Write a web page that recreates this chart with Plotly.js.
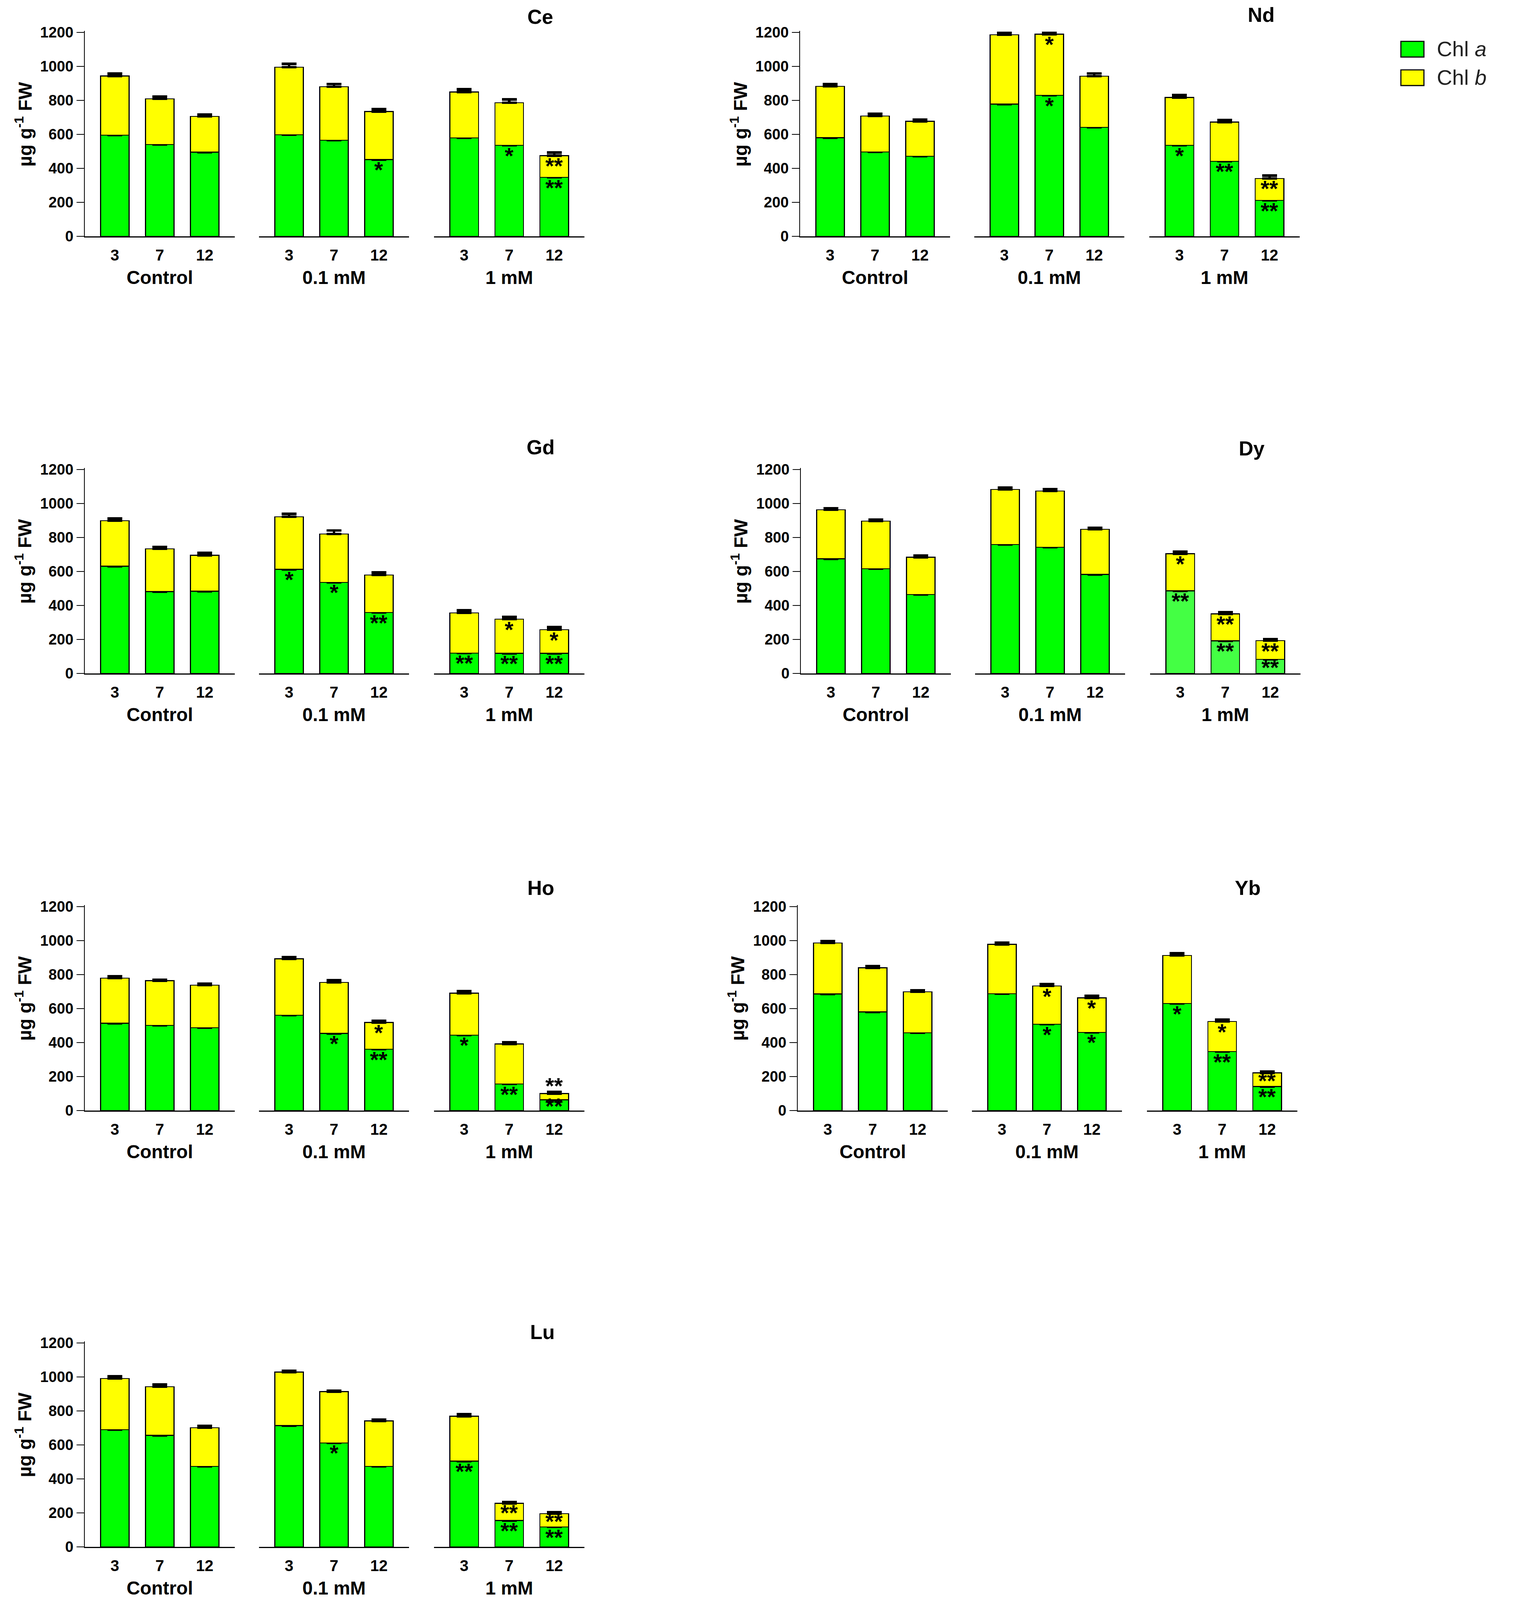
<!DOCTYPE html>
<html>
<head>
<meta charset="utf-8">
<script src="https://cdn.plot.ly/plotly-3.0.1.min.js"></script>
<style>html,body{margin:0;padding:0;background:#fff;overflow:hidden}</style>
</head>
<body>
<div id="chart"></div>
<script>
// days after treatment, shown under each bar
const days = ['3', '7', '12'];
const doses = ['Control', '0.1 mM', '1 mM'];
const yTicks = [0, 200, 400, 600, 800, 1000, 1200];

// µg g-1 FW, order: Control 3/7/12, 0.1 mM 3/7/12, 1 mM 3/7/12
// Chl b is the part stacked on top of Chl a
const ceChlA = [595, 541, 496, 598, 565, 452, 580, 536, 347];
const ceChlB = [349, 269, 210, 397, 315, 283, 270, 250, 128];
const ceErrA = [12, 12, 10, 18, 15, 15, 14, 15, 20];
const ceErrB = [15, 12, 12, 20, 17, 15, 16, 20, 18];
const ceSigA = ['', '', '', '', '', '*', '', '*', '**'];
const ceSigB = ['', '', '', '', '', '', '', '', '**'];

const ndChlA = [581, 497, 471, 778, 830, 642, 536, 442, 212];
const ndChlB = [302, 211, 206, 409, 360, 300, 281, 231, 129];
const ndErrA = [14, 13, 12, 12, 13, 12, 18, 16, 15];
const ndErrB = [14, 14, 10, 10, 8, 17, 14, 12, 17];
const ndSigA = ['', '', '', '', '*', '', '*', '**', '**'];
const ndSigB = ['', '', '', '', '*', '', '', '', '**'];

const gdChlA = [631, 482, 484, 613, 536, 358, 120, 118, 118];
const gdChlB = [268, 251, 211, 309, 285, 221, 237, 201, 139];
const gdErrA = [12, 14, 10, 15, 15, 15, 12, 12, 15];
const gdErrB = [12, 12, 15, 17, 20, 15, 14, 14, 15];
const gdSigA = ['', '', '', '*', '*', '**', '**', '**', '**'];
const gdSigB = ['', '', '', '', '', '', '', '*', '*'];

const dyChlA = [675, 616, 464, 758, 742, 583, 486, 192, 83];
const dyChlB = [288, 280, 220, 325, 331, 265, 219, 159, 110];
const dyErrA = [8, 8, 8, 12, 10, 12, 12, 10, 8];
const dyErrB = [8, 10, 10, 10, 12, 10, 12, 10, 8];
const dySigA = ['', '', '', '', '', '', '**', '**', '**'];
const dySigB = ['', '', '', '', '', '', '*', '**', '**'];

const hoChlA = [514, 501, 487, 561, 454, 361, 444, 156, 63];
const hoChlB = [265, 263, 251, 332, 300, 157, 247, 236, 37];
const hoErrA = [10, 10, 8, 8, 10, 10, 12, 15, 10];
const hoErrB = [10, 6, 8, 10, 12, 10, 12, 10, 10];
const hoSigA = ['', '', '', '', '*', '**', '*', '**', '**'];
const hoSigB = ['', '', '', '', '', '*', '', '', '**'];

const ybChlA = [686, 580, 457, 687, 508, 460, 629, 347, 141];
const ybChlB = [300, 260, 241, 291, 225, 203, 284, 177, 81];
const ybErrA = [10, 10, 10, 8, 12, 15, 12, 15, 12];
const ybErrB = [10, 10, 10, 10, 12, 12, 12, 10, 8];
const ybSigA = ['', '', '', '', '*', '*', '*', '**', '**'];
const ybSigB = ['', '', '', '', '*', '*', '', '*', '**'];

const luChlA = [689, 656, 473, 714, 612, 473, 505, 155, 117];
const luChlB = [302, 287, 228, 315, 302, 268, 264, 101, 79];
const luErrA = [12, 12, 10, 12, 12, 10, 12, 12, 8];
const luErrB = [12, 12, 12, 8, 6, 8, 12, 8, 8];
const luSigA = ['', '', '', '', '*', '', '**', '**', '**'];
const luSigB = ['', '', '', '', '', '', '', '**', '**'];

const panels = [
    {name: 'Ce', a: ceChlA, b: ceChlB, ea: ceErrA, eb: ceErrB, sa: ceSigA, sb: ceSigB},
    {name: 'Nd', a: ndChlA, b: ndChlB, ea: ndErrA, eb: ndErrB, sa: ndSigA, sb: ndSigB},
    {name: 'Gd', a: gdChlA, b: gdChlB, ea: gdErrA, eb: gdErrB, sa: gdSigA, sb: gdSigB},
    {name: 'Dy', a: dyChlA, b: dyChlB, ea: dyErrA, eb: dyErrB, sa: dySigA, sb: dySigB},
    {name: 'Ho', a: hoChlA, b: hoChlB, ea: hoErrA, eb: hoErrB, sa: hoSigA, sb: hoSigB},
    {name: 'Yb', a: ybChlA, b: ybChlB, ea: ybErrA, eb: ybErrB, sa: ybSigA, sb: ybSigB},
    {name: 'Lu', a: luChlA, b: luChlB, ea: luErrA, eb: luErrB, sa: luSigA, sb: luSigB}
];

// page geometry in reference px (3873 x 4488): y-axis x, zero-line y, panel title centre
const REF_W = 3873, REF_H = 4488;
const spots = [
    {x0: 217, y0: 663, tx: 1383, ty: 47},
    {x0: 2048, y0: 663, tx: 3228, ty: 42},
    {x0: 217, y0: 1889, tx: 1384, ty: 1255},
    {x0: 2050, y0: 1889, tx: 3204, ty: 1258},
    {x0: 217, y0: 3115, tx: 1384, ty: 2490},
    {x0: 2042, y0: 3115, tx: 3194, ty: 2490},
    {x0: 217, y0: 4339, tx: 1388, ty: 3736}
];
const groupSpan = [[0, 384], [446, 830], [894, 1279]];
const yMax = 1210;
const pxPerUnit = 572 / 1200;

const FONT = 'Liberation Sans, Arial, sans-serif';
const GREEN = '#00ff00', LIGHT_GREEN = '#44ff44', YELLOW = '#ffff00';

const px = v => v / REF_W;
const py = v => 1 - v / REF_H;

function drawChart() {
    // fit the whole figure into the visible window
    const W = window.innerWidth || REF_W;
    const H = window.innerHeight || REF_H;
    const kx = W / REF_W, ky = H / REF_H;
    const kf = (kx + ky) / 2;
    const el = document.getElementById('chart');
    el.style.width = W + 'px';
    el.style.height = H + 'px';

    const traces = [];
    const annotations = [];
    const shapes = [];
    const layout = {
        width: W, height: H,
        margin: {l: 0, r: 0, t: 0, b: 0},
        paper_bgcolor: '#fff', plot_bgcolor: 'rgba(0,0,0,0)',
        barmode: 'stack', showlegend: false,
        font: {family: FONT, color: '#000'}
    };

    panels.forEach((pan, p) => {
        const s = spots[p];
        const yName = p === 0 ? 'y' : 'y' + (p + 1);
        const yKey = p === 0 ? 'yaxis' : 'yaxis' + (p + 1);

        layout[yKey] = {
            domain: [py(s.y0), py(s.y0 - pxPerUnit * yMax)],
            range: [0, yMax],
            anchor: p === 0 ? 'x' : 'x' + (p * 3 + 1),
            tickvals: yTicks,
            ticks: 'outside', ticklen: 19 * kx, tickwidth: 2.5 * kf, tickcolor: '#000',
            showline: true, linewidth: 2.5 * kf, linecolor: '#000',
            showgrid: false, zeroline: false, fixedrange: true,
            tickfont: {family: FONT, size: 40 * kf, weight: 'bold', color: '#000'}
        };

        groupSpan.forEach((gs, g) => {
            const n = p * 3 + g + 1;
            const xName = n === 1 ? 'x' : 'x' + n;
            const xKey = n === 1 ? 'xaxis' : 'xaxis' + n;
            const part = arr => arr.slice(g * 3, g * 3 + 3);

            layout[xKey] = {
                domain: [px(s.x0 + gs[0]), px(s.x0 + gs[1])],
                anchor: yName,
                type: 'category', categoryorder: 'array', categoryarray: days,
                range: [-0.67, 2.67],
                showline: true, linewidth: 3 * kf, linecolor: '#000',
                // invisible ticks only push the day labels down a little
                ticks: 'outside', ticklen: 12 * ky, tickcolor: 'rgba(0,0,0,0)',
                showgrid: false, zeroline: false, fixedrange: true,
                tickfont: {family: FONT, size: 42 * kf, weight: 'bold', color: '#000'},
                title: {text: doses[g], standoff: 21 * ky,
                        font: {family: FONT, size: 50 * kf, weight: 'bold', color: '#000'}}
            };

            const greenFill = (pan.name === 'Dy' && g === 2) ? LIGHT_GREEN : GREEN;
            const aVals = part(pan.a), bVals = part(pan.b);

            traces.push({
                type: 'bar', name: 'Chl a', x: days, y: aVals,
                xaxis: xName, yaxis: yName, width: 0.635,
                marker: {color: greenFill, line: {color: '#000', width: 2.5 * kf}},
                error_y: {type: 'data', symmetric: false, array: part(pan.ea),
                          arrayminus: [0, 0, 0], color: '#000', thickness: 7 * ky, width: 19 * kx},
                hoverinfo: 'skip'
            });
            traces.push({
                type: 'bar', name: 'Chl b', x: days, y: bVals,
                xaxis: xName, yaxis: yName, width: 0.635,
                marker: {color: YELLOW, line: {color: '#000', width: 2.5 * kf}},
                error_y: {type: 'data', symmetric: false, array: part(pan.eb),
                          arrayminus: [0, 0, 0], color: '#000', thickness: 7 * ky, width: 19 * kx},
                hoverinfo: 'skip'
            });

            // significance stars, inside each segment near its top (above it if too short)
            const aSig = part(pan.sa), bSig = part(pan.sb), bErr = part(pan.eb);
            days.forEach((d, i) => {
                const marks = [
                    {txt: aSig[i], top: aVals[i], seg: aVals[i], err: 0},
                    {txt: bSig[i], top: aVals[i] + bVals[i], seg: bVals[i], err: bErr[i]}
                ];
                marks.forEach(m => {
                    if (!m.txt) return;
                    const yc = m.seg < 50 ? m.top + m.err + 42 : m.top - Math.min(55, m.seg / 2);
                    annotations.push({
                        xref: xName, yref: yName, x: i, y: yc,
                        text: m.txt, showarrow: false,
                        xanchor: 'center', yanchor: 'middle', yshift: -3 * ky,
                        font: {family: FONT, size: 60 * kf, weight: 'bold', color: '#000'}
                    });
                });
            });
        });

        // element name
        annotations.push({
            xref: 'paper', yref: 'paper', x: px(s.tx), y: py(s.ty),
            text: pan.name, showarrow: false, xanchor: 'center', yanchor: 'middle',
            font: {family: FONT, size: 54 * kf, weight: 'bold', color: '#000'}
        });
        // y-axis title
        annotations.push({
            xref: 'paper', yref: 'paper', x: px(s.x0 - 157), y: py(s.y0 - 314),
            text: 'µg g<sup>-1</sup> FW', textangle: -90, showarrow: false,
            xanchor: 'center', yanchor: 'middle',
            font: {family: FONT, size: 50 * kf, weight: 'bold', color: '#000'}
        });
    });

    // legend, top right
    const legendItems = [
        {label: 'Chl <i>a</i>', color: GREEN, y: 138},
        {label: 'Chl <i>b</i>', color: YELLOW, y: 218}
    ];
    legendItems.forEach(it => {
        shapes.push({
            type: 'rect', xref: 'paper', yref: 'paper',
            x0: px(3586), x1: px(3645), y0: py(it.y + 22), y1: py(it.y - 22),
            fillcolor: it.color, line: {color: '#000', width: 3 * kf}
        });
        annotations.push({
            xref: 'paper', yref: 'paper', x: px(3676), y: py(it.y),
            text: it.label, showarrow: false, xanchor: 'left', yanchor: 'middle',
            font: {family: FONT, size: 57 * kf, color: '#222'}
        });
    });

    layout.annotations = annotations;
    layout.shapes = shapes;

    Plotly.newPlot('chart', traces, layout, {staticPlot: true, displayModeBar: false});
}

document.addEventListener('DOMContentLoaded', drawChart);
</script>
</body>
</html>
